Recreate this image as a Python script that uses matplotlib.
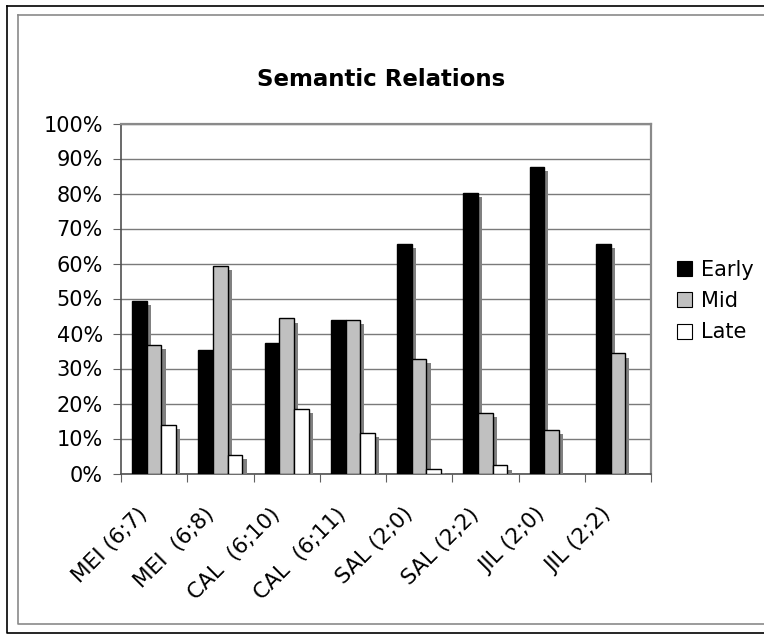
import matplotlib
matplotlib.use("Agg")
import matplotlib.pyplot as plt
import matplotlib.patheffects as pe
import matplotlib.transforms as mtransforms
from matplotlib.patches import Patch
from matplotlib.lines import Line2D
import numpy as np

# ── Data ──────────────────────────────────────────────────────────────────────
categories = ["MEI (6;7)", "MEI  (6;8)", "CAL  (6;10)", "CAL  (6;11)",
              "SAL (2;0)", "SAL (2;2)", "JIL (2;0)", "JIL (2;2)"]
early = [49.2, 35.2, 37.3, 44.0, 65.7, 80.2, 87.6, 65.7]
mid = [36.8, 59.4, 44.3, 44.0, 32.8, 17.4, 12.4, 34.3]
late = [13.8, 5.2, 18.4, 11.6, 1.4, 2.3, 0.0, 0.0]

series_names = ["Early", "Mid", "Late"]
series_colors = ["#000000", "#c0c0c0", "#ffffff"]

# ── Figure ────────────────────────────────────────────────────────────────────
W, H = 764, 635
fig = plt.figure(figsize=(W / 100, H / 100), dpi=100)
ax = fig.add_axes([121 / W, 1 - 473.5 / H, 530 / W, 350 / H])

x = np.arange(len(categories))
bw = 1 / 4.5
shadow = [pe.SimplePatchShadow(offset=(3, -3), shadow_rgbFace="#808080",
                               alpha=1.0), pe.Normal()]

for i, (vals, color) in enumerate(zip([early, mid, late], series_colors)):
    bars = ax.bar(x + (i - 1) * bw, vals, width=bw, color=color,
                  edgecolor="black", linewidth=1.0, zorder=3)
    for b in bars:
        if b.get_height() > 0:
            b.set_path_effects(shadow)
        else:
            b.set_visible(False)

ax.set_xlim(-0.5, len(categories) - 0.5)
ax.set_ylim(0, 100)
ax.set_yticks(np.arange(0, 101, 10))
ax.set_yticklabels([f"{v}%" for v in range(0, 101, 10)], fontsize=15)
ax.yaxis.grid(True, color="#7a7a7a", linewidth=1.0, zorder=0)

# category ticks sit between the groups, labels at group centres
ax.set_xticks(np.arange(-0.5, len(categories), 1.0))
ax.set_xticklabels([])
ax.set_xticks(x, minor=True)
ax.set_xticklabels(categories, minor=True, rotation=45, ha="right",
                   va="top", rotation_mode="anchor", fontsize=15.5)
ax.tick_params(axis="x", which="minor", length=0, pad=22)
ax.tick_params(axis="x", which="major", length=6, color="#606060")
ax.tick_params(axis="y", length=6, color="#606060", pad=7)
shift = mtransforms.ScaledTranslation(-12 / 72, 0, fig.dpi_scale_trans)
for lbl in ax.get_xticklabels(minor=True):
    lbl.set_transform(lbl.get_transform() + shift)

for side in ["left", "bottom"]:
    ax.spines[side].set_color("#505050")
    ax.spines[side].set_linewidth(1.2)
for side in ["top", "right"]:
    ax.spines[side].set_color("#8a8a8a")
    ax.spines[side].set_linewidth(1.6)

fig.text(381 / W, 1 - 80 / H, "Semantic Relations", ha="center",
         va="center", fontsize=16.5, fontweight="bold")

handles = [Patch(facecolor=c, edgecolor="black", linewidth=0.8)
           for c in series_colors]
fig.legend(handles, series_names, loc="center left",
           bbox_to_anchor=(667 / W, 1 - 301 / H), frameon=False,
           fontsize=15, handlelength=0.72, handleheight=0.72,
           handletextpad=0.4, labelspacing=0.55, borderpad=0)

# double frame around the whole chart
fig.add_artist(Line2D([7 / W, 7 / W, 1.0], [1 - 6 / H, 1 - 633 / H, 1 - 633 / H],
                      color="black", linewidth=1.2))
fig.add_artist(Line2D([7 / W, 1.0], [1 - 6 / H, 1 - 6 / H],
                      color="black", linewidth=1.2))
fig.add_artist(Line2D([18 / W, 18 / W, 1.0], [1 - 15 / H, 1 - 624 / H, 1 - 624 / H],
                      color="#8a8a8a", linewidth=1.2))
fig.add_artist(Line2D([18 / W, 1.0], [1 - 15 / H, 1 - 15 / H],
                      color="#8a8a8a", linewidth=1.2))

fig.savefig("out.png", dpi=100)
